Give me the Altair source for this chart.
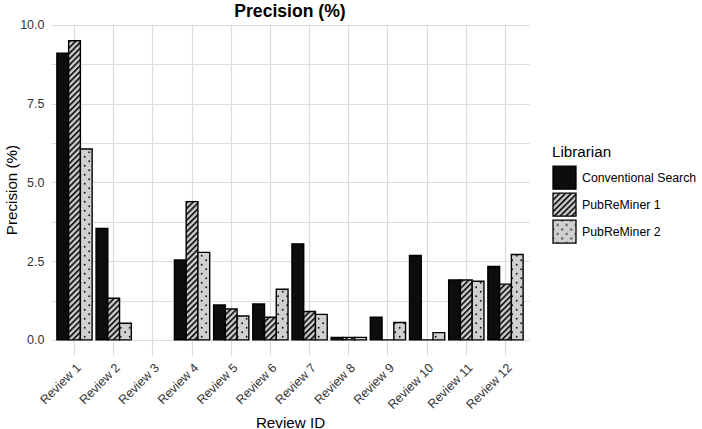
import altair as alt
import jinja2
import pandas as pd

# Precision (%) per review and search approach
reviews = [f"Review {i}" for i in range(1, 13)]
librarians = ["Conventional Search", "PubReMiner 1", "PubReMiner 2"]
conventional = [9.10, 3.54, None, 2.54, 1.11, 1.14, 3.05, 0.08, 0.72, 2.68, 1.90, 2.33]
pubreminer1 = [9.50, 1.32, None, 4.39, 0.98, 0.72, 0.90, 0.08, 0.00, 0.00, 1.90, 1.77]
pubreminer2 = [6.06, 0.53, None, 2.78, 0.76, 1.61, 0.81, 0.08, 0.55, 0.23, 1.86, 2.71]

y_ticks = [0, 1.25, 2.5, 3.75, 5, 6.25, 7.5, 8.75, 10]

rows = []
for lib, series in zip(librarians, [conventional, pubreminer1, pubreminer2]):
    for rev, val in zip(reviews, series):
        if val is not None:
            rows.append({"Review": rev, "Librarian": lib, "Precision": val})
df = pd.DataFrame(rows)

# solid black, diagonal hatching and dotted fills (patterns defined in the page)
fills = ["#0d0d0d", "url(#hatch)", "url(#dots)"]

FONT = "Liberation Sans"

bars = alt.Chart(df).mark_bar(stroke="black", strokeWidth=1.4).encode(
    x=alt.X(
        "Review:N",
        sort=reviews,
        scale=alt.Scale(domain=reviews, paddingInner=0.1, paddingOuter=0.15),
        axis=alt.Axis(
            title="Review ID",
            grid=True,
            bandPosition=0.5,
            ticks=False,
            domain=False,
            labelAngle=-45,
            labelAlign="right",
            labelBaseline="top",
            labelPadding=6,
            titleX=239,
            titleY=72,
            titleAlign="center",
            titleBaseline="alphabetic",
        ),
    ),
    xOffset=alt.XOffset(
        "Librarian:N",
        sort=librarians,
        scale=alt.Scale(domain=librarians, paddingInner=0, paddingOuter=0),
    ),
    y=alt.Y(
        "Precision:Q",
        scale=alt.Scale(domain=[-0.48, 10.03], nice=False, zero=False),
        axis=alt.Axis(
            title="Precision (%)",
            values=y_ticks,
            labelExpr="datum.value % 2.5 === 0 ? format(datum.value, '.1f') : ''",
            ticks=False,
            domain=False,
            labelPadding=7,
            titleX=-35,
            titleY=165.5,
            titleAngle=-90,
            titleAlign="center",
            titleBaseline="alphabetic",
        ),
    ),
    y2=alt.datum(0),
    fill=alt.Fill(
        "Librarian:N",
        sort=librarians,
        scale=alt.Scale(domain=librarians, range=fills),
        legend=alt.Legend(
            title="Librarian",
            orient="none",
            legendX=501,
            legendY=121,
            padding=0,
            symbolType="square",
            symbolSize=529,
            symbolStrokeColor="black",
            symbolStrokeWidth=1.3,
            symbolOpacity=1,
            rowPadding=-5,
            labelOffset=5,
            titlePadding=5,
            titleFontSize=15.2,
            titleFontWeight="normal",
            titleColor="black",
            labelFontSize=12.3,
            labelColor="black",
            titleFont=FONT,
            labelFont=FONT,
        ),
    ),
)

chart = bars.properties(
    width=478,
    height=331,
    autosize=alt.AutoSizeParams(type="none"),
    padding={"left": 51, "top": 24, "right": 173, "bottom": 74},
    title=alt.TitleParams(
        "Precision (%)",
        fontSize=17.6,
        fontWeight="bold",
        anchor="middle",
        frame="group",
        baseline="alphabetic",
        offset=4,
        dy=20,
        font=FONT,
        color="black",
    ),
).configure(
    background="white",
    font=FONT,
).configure_view(
    stroke=None,
).configure_axis(
    gridColor="#dcdcdc",
    gridWidth=1.2,
    labelFont=FONT,
    labelFontSize=12.5,
    labelColor="#333333",
    titleFont=FONT,
    titleFontSize=15.2,
    titleFontWeight="normal",
    titleColor="black",
)

EMBED = {"renderer": "svg", "actions": False}

# paint servers for the hatched and dotted bars
PATTERNS = """
<svg width="0" height="0" style="position:absolute;left:0;top:0" aria-hidden="true">
  <defs>
    <pattern id="hatch" patternUnits="userSpaceOnUse" width="4.1" height="4.1" patternTransform="rotate(45)">
      <rect width="4.1" height="4.1" fill="#cbcbcb"/>
      <rect width="1.8" height="4.1" fill="#1a1a1a"/>
    </pattern>
    <pattern id="dots" patternUnits="userSpaceOnUse" width="9" height="9">
      <rect width="9" height="9" fill="#d0d0d0"/>
      <circle cx="2.2" cy="2.2" r="0.95" fill="#1a1a1a"/>
      <circle cx="6.7" cy="6.7" r="0.95" fill="#1a1a1a"/>
    </pattern>
  </defs>
</svg>
"""

page = chart.to_html(embed_options=EMBED)
marker = '<div id="vis"></div>'
if marker in page:
    page = page.replace(marker, PATTERNS + marker, 1)
else:
    page = page.replace("<body>", "<body>" + PATTERNS, 1)
page_template = jinja2.Template("{% raw %}" + page + "{% endraw %}")

chart.save("out.html", embed_options=EMBED, template=page_template)
